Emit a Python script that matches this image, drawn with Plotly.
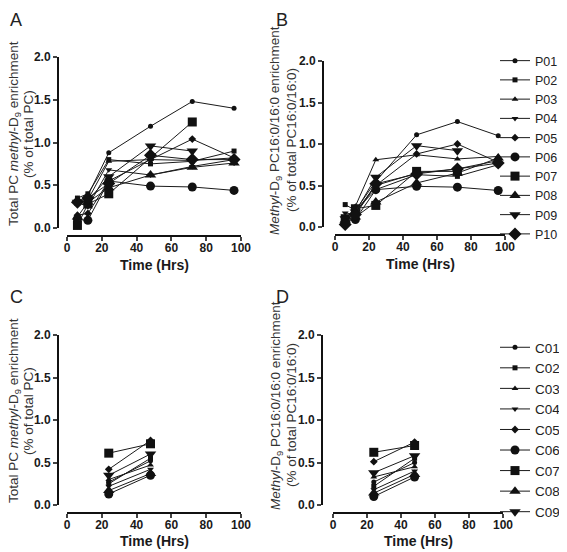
import plotly.graph_objects as go

times_p = [6, 12, 24, 48, 72, 96]
times_c = [24, 48]

p_names = ["P01", "P02", "P03", "P04", "P05", "P06", "P07", "P08", "P09", "P10"]
c_names = ["C01", "C02", "C03", "C04", "C05", "C06", "C07", "C08", "C09"]

# Panel A: total PC methyl-D9 enrichment (% of total PC), patients
a_vals = {
    "P01": [0.30, 0.38, 0.88, 1.19, 1.48, 1.40],
    "P02": [0.35, 0.40, 0.80, 0.75, 0.78, 0.90],
    "P03": [0.28, 0.33, 0.78, 0.80, 0.79, 0.82],
    "P04": [0.30, 0.25, 0.68, 0.62, 0.72, 0.80],
    "P05": [0.15, 0.17, 0.55, 0.80, 1.04, 0.82],
    "P06": [0.10, 0.09, 0.55, 0.49, 0.48, 0.44],
    "P07": [0.03, 0.28, 0.40, None, 1.24, None],
    "P08": [0.13, 0.30, 0.47, 0.62, 0.71, 0.76],
    "P09": [0.30, 0.32, 0.60, 0.96, 0.90, None],
    "P10": [0.30, 0.35, 0.52, 0.85, 0.80, 0.80],
}

# Panel B: methyl-D9 PC16:0/16:0 enrichment, patients
b_vals = {
    "P01": [0.05, 0.20, 0.55, 1.11, 1.27, 1.10],
    "P02": [0.27, 0.20, 0.45, 0.63, 0.61, 0.75],
    "P03": [0.08, 0.25, 0.81, 0.87, 0.82, 0.85],
    "P04": [0.17, 0.15, 0.50, 0.65, 0.70, 0.80],
    "P05": [0.05, 0.18, 0.50, 0.88, 1.00, 0.78],
    "P06": [0.06, 0.09, 0.45, 0.49, 0.48, 0.44],
    "P07": [0.10, 0.22, 0.26, 0.67, 0.67, None],
    "P08": [0.08, 0.12, 0.30, 0.53, 0.65, 0.83],
    "P09": [0.10, 0.18, 0.60, 0.98, 0.92, None],
    "P10": [0.03, 0.15, 0.52, 0.64, 0.70, 0.77],
}

# Panel C: total PC enrichment, controls
c_vals = {
    "C01": [0.27, 0.52],
    "C02": [0.25, 0.55],
    "C03": [0.30, 0.47],
    "C04": [0.22, 0.42],
    "C05": [0.42, 0.76],
    "C06": [0.13, 0.35],
    "C07": [0.61, 0.72],
    "C08": [0.17, 0.37],
    "C09": [0.35, 0.60],
}

# Panel D: PC16:0/16:0 enrichment, controls
d_vals = {
    "C01": [0.27, 0.50],
    "C02": [0.22, 0.55],
    "C03": [0.33, 0.45],
    "C04": [0.18, 0.40],
    "C05": [0.51, 0.74],
    "C06": [0.10, 0.33],
    "C07": [0.62, 0.70],
    "C08": [0.14, 0.36],
    "C09": [0.38, 0.58],
}

x_ticks = [0, 20, 40, 60, 80, 100]
y_ticks = [0.0, 0.5, 1.0, 1.5, 2.0]

symbols = ["circle", "square", "triangle-up", "triangle-down", "diamond",
           "circle", "square", "triangle-up", "triangle-down", "diamond"]
sizes = [5, 5, 6, 6, 6, 9, 9, 10, 10, 10]

# page body has an 8px margin; the figure fills the rest of the window
OFF = 8
W, H = 567 - OFF, 552 - OFF
fig = go.Figure()


def add_series(vals, times, xa, ya, legend_name, show):
    for i, (name, ys) in enumerate(vals.items()):
        fig.add_trace(go.Scatter(
            x=times, y=ys, mode="lines+markers", name=name,
            xaxis=xa, yaxis=ya, connectgaps=True, cliponaxis=False,
            line=dict(color="#1a1a1a", width=1),
            marker=dict(symbol=symbols[i], size=sizes[i], color="#111111"),
            showlegend=show, legend=legend_name, legendgroup=legend_name + name,
        ))


add_series(a_vals, times_p, "x", "y", "legend", False)
add_series(b_vals, times_p, "x2", "y2", "legend", True)
add_series(c_vals, times_c, "x3", "y3", "legend2", False)
add_series(d_vals, times_c, "x4", "y4", "legend2", True)


def px_x(v):
    return (v - OFF) / W


def px_y(v):
    return 1 - (v - OFF) / H


FONT = "Arial, Liberation Sans, sans-serif"
tickfont = dict(family=FONT, size=12, color="#1a1a1a", weight="bold")
titlefont = dict(family=FONT, size=13.5, color="#333333")
xtitlefont = dict(family=FONT, size=14, color="#1a1a1a", weight="bold")

A_L1 = "Total PC <i>methyl</i>-D<sub>9</sub> enrichment"
A_L2 = "(% of total PC)"
B_L1 = "<i>Methyl</i>-D<sub>9</sub> PC16:0/16:0 enrichment"
B_L2 = "(% of total PC16:0/16:0)"

panels = [
    # (x0, x100, xaxis_y, yaxis_x, y2.0, y0.0,
    #  [(title line, x, y), ...], xtitle_y)   -- window pixels
    (67, 241, 236, 58, 57, 228, [(A_L1, 14, 134), (A_L2, 28, 134)], 265),
    (335, 505, 235, 323, 61, 227, [(B_L1, 276, 131), (B_L2, 291, 140)], 264),
    (67, 241, 513, 58, 335, 505, [(A_L1, 14, 411), (A_L2, 28, 411)], 541),
    (333, 503, 513, 322, 335, 505, [(B_L1, 276, 406), (B_L2, 291, 415)], 541),
]

layout = {}
annotations = []
for k, (x0, x1, xay, yax, ytop, ybot, tlines, xty) in enumerate(panels):
    sfx = "" if k == 0 else str(k + 1)
    layout["xaxis" + sfx] = dict(
        domain=[px_x(x0), px_x(x1)], range=[0, 100], anchor="free",
        position=px_y(xay), tickvals=x_ticks, ticks="outside", ticklen=4,
        tickwidth=2, showline=True, linewidth=2, linecolor="#111111",
        showgrid=False, zeroline=False, tickfont=tickfont, automargin=False,
        ticklabelstandoff=-3,
    )
    layout["yaxis" + sfx] = dict(
        domain=[px_y(ybot), px_y(ytop)], range=[0, 2], anchor="free",
        position=px_x(yax), tickvals=y_ticks, tickformat=".1f",
        ticks="outside", ticklen=4, tickwidth=2, showline=True, linewidth=2,
        linecolor="#111111", showgrid=False, zeroline=False, tickfont=tickfont,
        automargin=False,
    )
    for txt, tx, ty in tlines:
        annotations.append(dict(
            text=txt, x=px_x(tx), y=px_y(ty), xref="paper", yref="paper",
            xanchor="center", yanchor="middle", textangle=-90,
            showarrow=False, font=titlefont))
    annotations.append(dict(
        text="Time (Hrs)", x=px_x((x0 + x1) / 2), y=px_y(xty),
        xref="paper", yref="paper", xanchor="center", yanchor="middle",
        showarrow=False, font=xtitlefont))

letters = [("A", 8, 8), ("B", 274, 8), ("C", 8, 285), ("D", 274, 285)]
for t, x, y in letters:
    annotations.append(dict(
        text=t, x=px_x(x), y=px_y(y), xref="paper", yref="paper",
        xanchor="left", yanchor="top", showarrow=False,
        font=dict(family=FONT, size=18, color="#222222")))

fig.update_layout(
    **layout,
    template="none",
    width=W, height=H,
    margin=dict(l=0, r=0, t=0, b=0, autoexpand=False),
    paper_bgcolor="white", plot_bgcolor="white",
    annotations=annotations,
    legend=dict(x=px_x(495), y=px_y(46), xanchor="left", yanchor="top",
                font=dict(family=FONT, size=12.5, color="#222222"),
                itemwidth=30, tracegroupgap=0, bgcolor="rgba(0,0,0,0)"),
    legend2=dict(x=px_x(495), y=px_y(332), xanchor="left", yanchor="top",
                 font=dict(family=FONT, size=13.5, color="#222222"),
                 itemwidth=30, tracegroupgap=0, bgcolor="rgba(0,0,0,0)"),
)

fig.write_html("out.html")
